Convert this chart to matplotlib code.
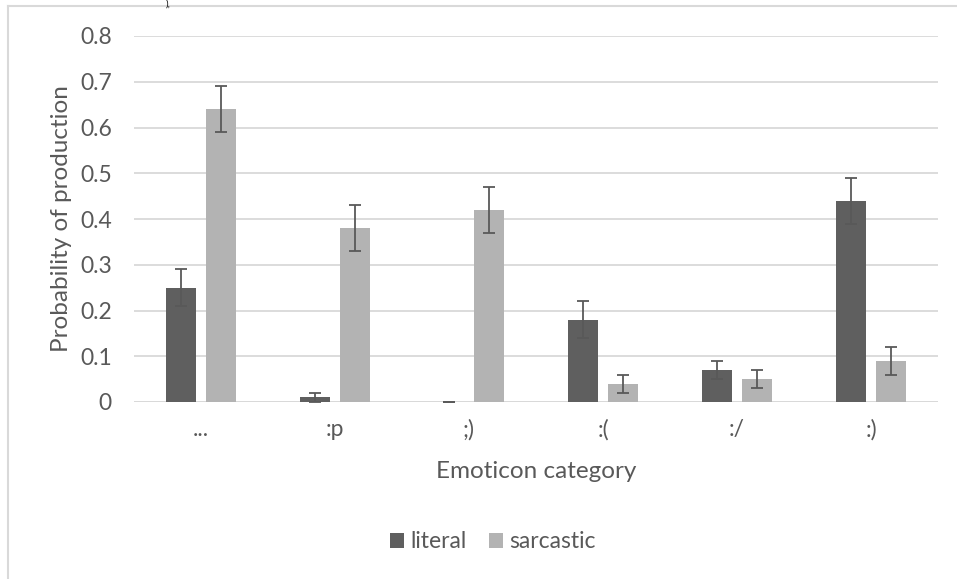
import matplotlib

matplotlib.use("Agg")

import matplotlib.pyplot as plt
import numpy as np
from matplotlib.lines import Line2D
from matplotlib.patches import Patch

categories = ["...", ":p", ";)", ":(", ":/", ":)"]
literal = [0.25, 0.01, 0.0, 0.18, 0.07, 0.44]
literal_err = [0.04, 0.01, 0.0, 0.04, 0.02, 0.05]
sarcastic = [0.64, 0.38, 0.42, 0.04, 0.05, 0.09]
sarcastic_err = [0.05, 0.05, 0.05, 0.02, 0.02, 0.03]
yticks = [0, 0.1, 0.2, 0.3, 0.4, 0.5, 0.6, 0.7, 0.8]

C_DARK = "#5f5f5f"
C_LIGHT = "#b3b3b3"
C_TEXT = "#595959"
C_GRID = "#d9d9d9"
C_ERR = "#595959"
FONT = ["Lato", "DejaVu Sans"]

plt.rcParams["font.family"] = FONT

W, H = 957, 579
fig = plt.figure(figsize=(W / 100, H / 100), dpi=100)
fig.patch.set_facecolor("white")

# frame of the embedded chart (only left and top edges are visible)
fig.add_artist(Line2D([8 / W, 8 / W], [0, 1 - 6 / H], transform=fig.transFigure, color=C_GRID, lw=1.5))
fig.add_artist(Line2D([8 / W, 1], [1 - 6 / H, 1 - 6 / H], transform=fig.transFigure, color=C_GRID, lw=1.5))
fig.text(168 / W, 1.0, "),", ha="center", va="top", fontsize=7, color="black")

ax = fig.add_axes([134 / W, 1 - 402 / H, 804 / W, 366 / H])

x = np.arange(len(categories))
w = 0.224
off = 0.146
err_kw = dict(ecolor=C_ERR, elinewidth=1.3, capsize=4.5, capthick=1.3)
ax.bar(x - off, literal, w, yerr=literal_err, color=C_DARK, error_kw=err_kw, zorder=3)
ax.bar(x + off, sarcastic, w, yerr=sarcastic_err, color=C_LIGHT, error_kw=err_kw, zorder=3)

ax.set_xlim(-0.5, len(categories) - 0.5)
ax.set_ylim(0, 0.8)
ax.set_yticks(yticks)
ax.set_yticklabels(["0"] + [f"{v:.1f}" for v in yticks[1:]])
ax.set_xticks(x)
ax.set_xticklabels(categories)
ax.grid(axis="y", color=C_GRID, lw=1.3, zorder=0)
ax.axhline(0, color=C_GRID, lw=1.3, zorder=2)
for s in ax.spines.values():
    s.set_visible(False)
ax.tick_params(axis="both", length=0, labelsize=16.5, colors=C_TEXT)
ax.tick_params(axis="y", pad=16)
ax.tick_params(axis="x", pad=12)

ax.set_ylabel("Probability of production", fontsize=17.5, color=C_TEXT, va="center")
ax.yaxis.set_label_coords((62 - 134) / 804, 0.5)
ax.set_xlabel("Emoticon category", fontsize=17.5, color=C_TEXT, va="center")
ax.xaxis.set_label_coords(0.5, (402 - 472) / 366)

handles = [Patch(facecolor=C_DARK, label="literal"), Patch(facecolor=C_LIGHT, label="sarcastic")]
fig.legend(
    handles=handles,
    loc="center",
    bbox_to_anchor=(493 / W, 1 - 542 / H),
    ncol=2,
    frameon=False,
    fontsize=16.5,
    labelcolor=C_TEXT,
    handlelength=0.6,
    handleheight=0.6,
    handletextpad=0.3,
    columnspacing=0.95,
)

fig.savefig("out.png", dpi=100, facecolor="white")
